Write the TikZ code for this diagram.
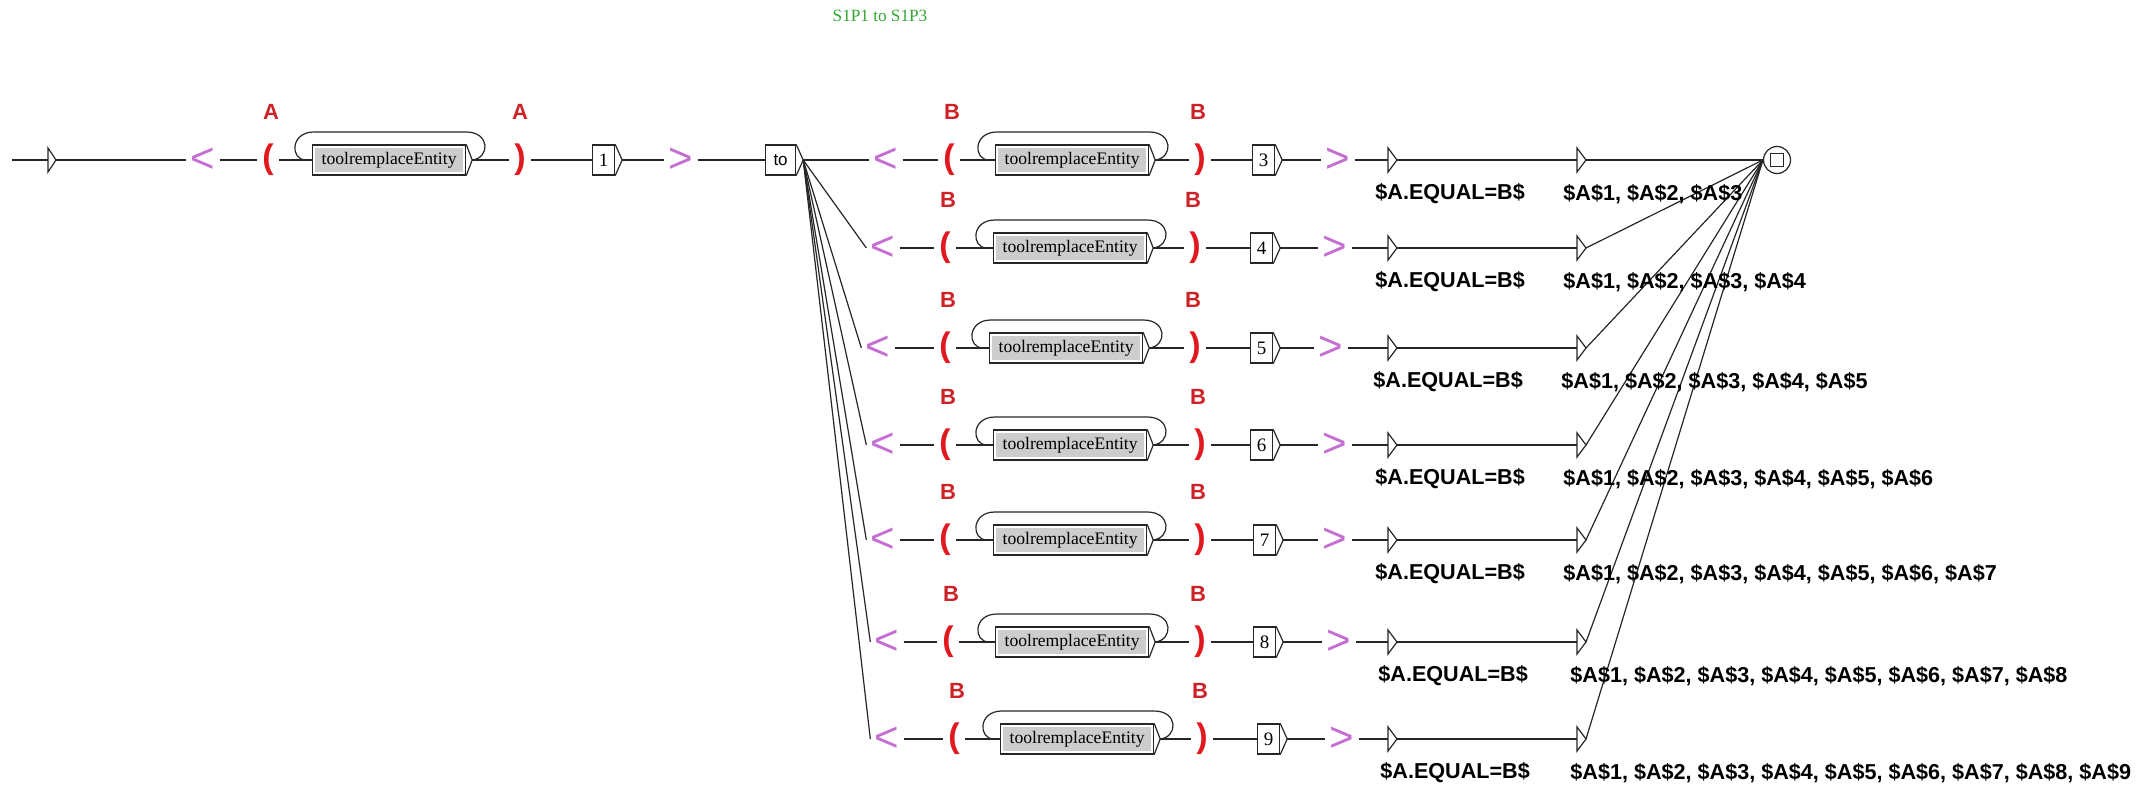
\documentclass[tikz,border=0pt]{standalone}
\usepackage{fontspec}
\setmainfont{Liberation Serif}
\newfontfamily\arialf{Liberation Sans}
\usetikzlibrary{calc}
\definecolor{redp}{RGB}{225,25,30}
\definecolor{redl}{RGB}{205,35,40}
\definecolor{viol}{RGB}{196,110,210}
\definecolor{grn}{RGB}{50,165,50}
\definecolor{boxg}{RGB}{205,205,205}
\newcommand\mkloop[2]{\draw[conn] ([xshift=-3pt]#1.west) .. controls ([xshift=-11pt]#1.west) and ([xshift=-11pt,yshift=14pt]#1.west) .. ([xshift=1pt,yshift=14pt]#1.west) -- ([xshift=-3pt,yshift=14pt]#2) .. controls ([xshift=9pt,yshift=14pt]#2) and ([xshift=9pt,yshift=1pt]#2) .. (#2);}
\tikzset{
 conn/.style={line width=0.6pt, draw=black!85},
 ltgt/.style={text=viol, font=\arialf\fontsize{21}{22}\selectfont, inner sep=0pt, inner xsep=2pt},
 paren/.style={text=redp, font=\arialf\bfseries\fontsize{17}{18}\selectfont, inner sep=0pt, inner xsep=2.5pt},
 lab/.style={text=redl, font=\arialf\bfseries\fontsize{11}{12}\selectfont, inner sep=0pt},
 entbox/.style={draw=black!85, line width=0.6pt, fill=white, minimum width=76.5pt, minimum height=15pt, inner sep=0pt, font=\fontsize{8.8}{10}\selectfont,
   path picture={\fill[boxg] ([shift={(1.3pt,-1.3pt)}]path picture bounding box.north west) rectangle ([shift={(-1.3pt,1.3pt)}]path picture bounding box.south east);}},
 numbox/.style={draw=black!85, line width=0.6pt, fill=white, minimum width=11pt, minimum height=15pt, inner sep=0pt, font=\fontsize{9.5}{10}\selectfont},
 tobox/.style={numbox, minimum width=15pt, font=\arialf\fontsize{8.5}{10}\selectfont},
 eqlab/.style={font=\arialf\bfseries\fontsize{10.8}{12}\selectfont, inner sep=0pt, anchor=west},
 ttl/.style={text=grn, font=\fontsize{8.6}{10}\selectfont, inner sep=0pt},
 tri/.style={draw=black!85, line width=0.6pt, fill=white},
 endst/.style={circle, draw=black!85, line width=0.6pt, fill=white, minimum size=13.5pt, inner sep=0pt},
 endsq/.style={draw=black!85, line width=0.6pt, minimum size=6.5pt, inner sep=0pt},
}
\begin{document}
\begin{tikzpicture}[x=0.5pt,y=-0.5pt]
\useasboundingbox[fill=white] (0,0) rectangle (2147,786);

\node[ttl] (title) at (880,16) {S1P1 to S1P3};

% first part
\coordinate (s0) at (12,160);
\coordinate (st) at (48,160);
\coordinate (stt) at (56,160);
\node[ltgt] (la) at (203,160) {<};
\node[paren] (pa) at (268,160) {(};
\node[lab] (aa) at (271,112) {A};
\node[entbox, anchor=west] (ea) at (312,160) {toolremplaceEntity};
\coordinate (eat) at ([xshift=3pt]ea.east);
\node[paren] (pb) at (520,160) {)};
\node[lab] (ab) at (520,112) {A};
\node[numbox, anchor=west] (n1) at (592,160) {1};
\coordinate (n1t) at ([xshift=3.5pt]n1.east);
\node[ltgt] (ga) at (681,160) {>};
\node[tobox, anchor=west] (tob) at (765,160) {to};
\coordinate (tot) at ([xshift=3.5pt]tob.east);

\draw[conn] (s0) -- (st);
\draw[tri] ($(st)+(0,-12)$) -- (stt) -- ($(st)+(0,12)$) -- cycle;
\draw[conn] (stt) -- (la);
\draw[conn] (la) -- (pa);
\draw[conn] (pa) -- (ea);
\draw[conn] (ea.north east) -- (eat) -- (ea.south east);
\mkloop{ea}{eat}
\draw[conn] (eat) -- (pb);
\draw[conn] (pb) -- (n1);
\draw[conn] (n1.north east) -- (n1t) -- (n1.south east);
\draw[conn] (n1t) -- (ga);
\draw[conn] (ga) -- (tob);
\draw[conn] (tob.north east) -- (tot) -- (tob.south east);

% final state
\node[endst] (fin) at (1777,160) {};
\node[endsq] (finsq) at (fin) {};

\foreach \i/\y/\lt/\op/\bx/\cp/\nb/\gt/\num in {
1/160/886/949/995/1200/1252/1338/3,
2/248/883/945/993/1195/1250/1335/4,
3/348/878/945/989/1195/1250/1331/5,
4/445/883/945/993/1200/1250/1335/6,
5/540/883/945/993/1200/1253/1335/7,
6/642/887/948/995/1200/1253/1339/8,
7/739/887/954/1000/1202/1257/1342/9}
{
 \node[ltgt] (lt\i) at (\lt,\y) {<};
 \node[paren] (op\i) at (\op,\y) {(};
 \node[lab] (bo\i) at (\op+3,\y-48) {B};
 \node[entbox, anchor=west] (bx\i) at (\bx,\y) {toolremplaceEntity};
 \coordinate (bt\i) at ([xshift=3pt]bx\i.east);
 \node[paren] (cp\i) at (\cp,\y) {)};
 \node[lab] (bc\i) at (\cp-2,\y-48) {B};
 \node[numbox, anchor=west] (nb\i) at (\nb,\y) {\num};
 \coordinate (nt\i) at ([xshift=3.5pt]nb\i.east);
 \node[ltgt] (gt\i) at (\gt,\y) {>};
 \coordinate (ta\i) at (1388,\y);
 \coordinate (tat\i) at (1397,\y);
 \coordinate (tb\i) at (1577,\y);
 \coordinate (tbt\i) at (1586,\y);
 \draw[conn] (tot) -- (lt\i.west);
 \draw[conn] (lt\i) -- (op\i);
 \draw[conn] (op\i) -- (bx\i);
 \draw[conn] (bx\i.north east) -- (bt\i) -- (bx\i.south east);
 \mkloop{bx\i}{bt\i}
 \draw[conn] (bt\i) -- (cp\i);
 \draw[conn] (cp\i) -- (nb\i);
 \draw[conn] (nb\i.north east) -- (nt\i) -- (nb\i.south east);
 \draw[conn] (nt\i) -- (gt\i);
 \draw[conn] (gt\i) -- (ta\i);
 \draw[tri] ($(ta\i)+(0,-12)$) -- (tat\i) -- ($(ta\i)+(0,12)$) -- cycle;
 \draw[conn] (tat\i) -- (tb\i);
 \draw[tri] ($(tb\i)+(0,-12)$) -- (tbt\i) -- ($(tb\i)+(0,12)$) -- cycle;
 \draw[conn] (tbt\i) -- (fin.west);
}

\node[eqlab] (e1) at (1375,194) {\$A.EQUAL=B\$};
\node[eqlab] (e2) at (1375,282) {\$A.EQUAL=B\$};
\node[eqlab] (e3) at (1373,382) {\$A.EQUAL=B\$};
\node[eqlab] (e4) at (1375,479) {\$A.EQUAL=B\$};
\node[eqlab] (e5) at (1375,574) {\$A.EQUAL=B\$};
\node[eqlab] (e6) at (1378,676) {\$A.EQUAL=B\$};
\node[eqlab] (e7) at (1380,773) {\$A.EQUAL=B\$};

\node[eqlab] (v1) at (1563,194) {\$A\$1, \$A\$2, \$A\$3};
\node[eqlab] (v2) at (1563,282) {\$A\$1, \$A\$2, \$A\$3, \$A\$4};
\node[eqlab] (v3) at (1561,382) {\$A\$1, \$A\$2, \$A\$3, \$A\$4, \$A\$5};
\node[eqlab] (v4) at (1563,479) {\$A\$1, \$A\$2, \$A\$3, \$A\$4, \$A\$5, \$A\$6};
\node[eqlab] (v5) at (1563,574) {\$A\$1, \$A\$2, \$A\$3, \$A\$4, \$A\$5, \$A\$6, \$A\$7};
\node[eqlab] (v6) at (1570,676) {\$A\$1, \$A\$2, \$A\$3, \$A\$4, \$A\$5, \$A\$6, \$A\$7, \$A\$8};
\node[eqlab] (v7) at (1570,773) {\$A\$1, \$A\$2, \$A\$3, \$A\$4, \$A\$5, \$A\$6, \$A\$7, \$A\$8, \$A\$9};
\end{tikzpicture}
\end{document}
